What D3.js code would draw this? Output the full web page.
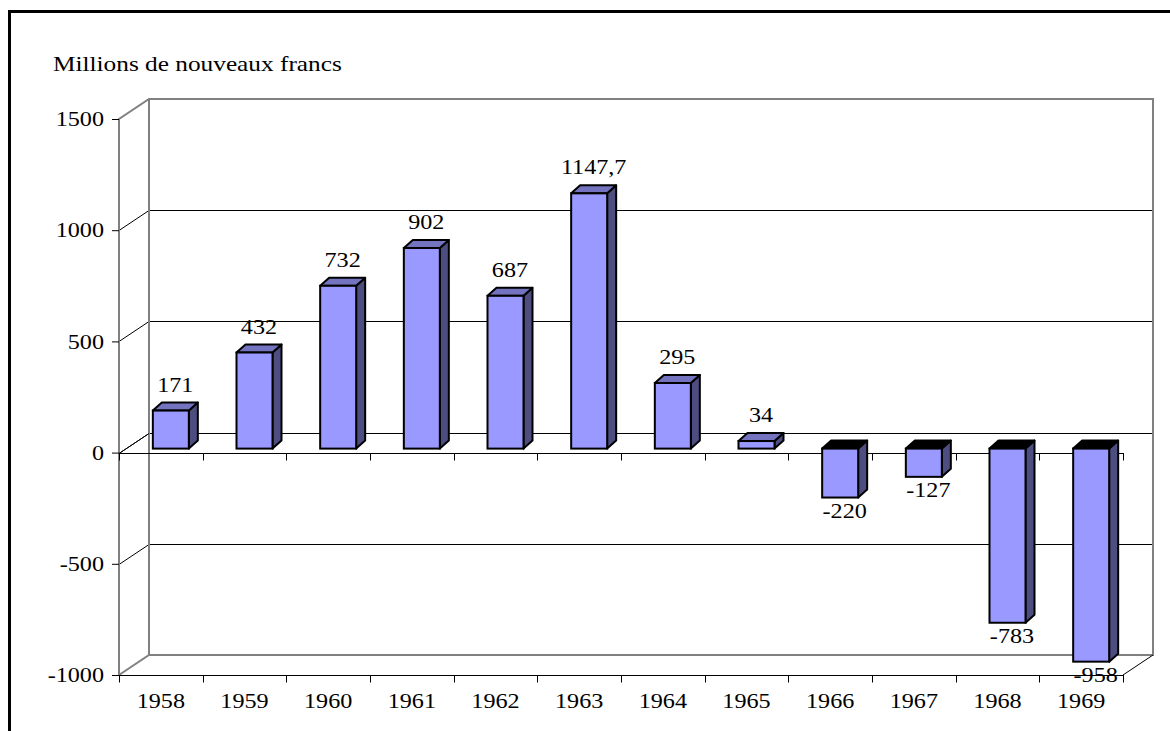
<!DOCTYPE html>
<html>
<head>
<meta charset="utf-8">
<script src="https://cdn.jsdelivr.net/npm/d3@7/dist/d3.min.js"></script>
<style>
  body { margin: 0; background: #fff; }
  svg text { font-family: "Liberation Serif", "Times New Roman", serif; fill: #000; }
</style>
</head>
<body>
<div id="chart"></div>
<script>
// data
var years = ["1958", "1959", "1960", "1961", "1962", "1963", "1964", "1965", "1966", "1967", "1968", "1969"];
var soldes = [171, 432, 732, 902, 687, 1147.7, 295, 34, -220, -127, -783, -958];
var yTicks = [1500, 1000, 500, 0, -500, -1000];
var unitLabel = "Millions de nouveaux francs";

var width = 1170, height = 731;
var svg = d3.select( "#chart" ).append( "svg" )
  .attr( "width", width )
  .attr( "height", height );

// front plane of the 3d box
var x = d3.scaleBand().domain( years ).range( [119, 1123] ).paddingInner( 0 ).paddingOuter( 0 );
var y = d3.scaleLinear().domain( [-1000, 1500] ).range( [675, 119] );
var wallDx = 30, wallDy = -20;   // depth of the walls
var barDx = 10, barDy = -4;      // bars sit a bit behind the front plane
var depDx = 9, depDy = -8;       // bar depth
var barW = 36;
var stretch = 1.15;              // the original text is a bit wider than Liberation Serif

var fr = d3.formatLocale( { decimal: ",", thousands: " ", grouping: [3], currency: ["", ""] } );
function fmt( v ) { return Number.isInteger( v ) ? String( v ) : fr.format( ".1f" )( v ); }

// outer frame
svg.append( "path" )
  .attr( "d", "M9.5," + height + "V11.5H" + width )
  .attr( "fill", "none" ).attr( "stroke", "#000" ).attr( "stroke-width", 3 );

// unit label
svg.append( "text" )
  .attr( "class", "wide" )
  .attr( "x", 53 ).attr( "y", 71 )
  .style( "font-size", "22px" )
  .text( unitLabel );

var x0 = x.range()[0], x1 = x.range()[1];
var yTop = y( 1500 ), yBot = y( -1000 );

// gridlines on the back wall + side wall
var inner = yTicks.filter( function ( t ) { return t !== 1500 && t !== -1000; } );
svg.selectAll( ".grid" )
  .data( inner )
  .enter().append( "path" )
  .attr( "class", "grid" )
  .attr( "fill", "none" ).attr( "stroke", "#000" ).attr( "stroke-width", 1 )
  .attr( "d", function ( t ) {
    var yy = Math.round( y( t ) ) + 0.5;
    return "M" + x0 + "," + yy + "L" + ( x0 + wallDx ) + "," + ( yy + wallDy ) + "H" + ( x1 + wallDx );
  } );

// walls outline (grey)
var gray = "#808080";
svg.append( "path" )
  .attr( "fill", "none" ).attr( "stroke", gray ).attr( "stroke-width", 2 )
  .attr( "d",
    "M" + x0 + "," + yBot + "V" + yTop + "L" + ( x0 + wallDx ) + "," + ( yTop + wallDy ) +
    "H" + ( x1 + wallDx ) + "V" + ( yBot + wallDy ) + "H" + ( x0 + wallDx ) + "L" + x0 + "," + yBot +
    "M" + ( x0 + wallDx ) + "," + ( yTop + wallDy ) + "V" + ( yBot + wallDy ) );

// right edge of the floor
svg.append( "line" )
  .attr( "x1", x1 ).attr( "y1", yBot ).attr( "x2", x1 + wallDx ).attr( "y2", yBot + wallDy )
  .attr( "stroke", "#000" ).attr( "stroke-width", 1 );

// value axis
var yAxis = d3.axisLeft( y ).tickValues( yTicks ).tickSize( 7 ).tickPadding( 8 )
  .tickFormat( function ( d ) { return String( d ); } );
svg.append( "g" )
  .attr( "transform", "translate(" + x0 + ",0)" )
  .call( yAxis )
  .call( function ( g ) {
    g.select( ".domain" ).remove();
    g.selectAll( "line" ).attr( "stroke", "#000" );
    g.selectAll( "text" ).attr( "class", "wide" )
      .style( "font-size", "21px" ).style( "font-family", "Liberation Serif, serif" );
  } );

// category axis at 0 (behind the bars) and at the floor
function catAxis( yy ) {
  var g = svg.append( "g" ).attr( "transform", "translate(0," + ( Math.round( y( yy ) ) + 0.5 ) + ")" );
  g.append( "line" ).attr( "x1", x0 ).attr( "x2", x1 + 1 ).attr( "stroke", "#000" );
  g.selectAll( ".tk" )
    .data( years.map( function ( d ) { return x( d ); } ).concat( [x1] ) )
    .enter().append( "line" )
    .attr( "class", "tk" )
    .attr( "x1", function ( d ) { return Math.round( d ) + 0.5; } )
    .attr( "x2", function ( d ) { return Math.round( d ) + 0.5; } )
    .attr( "y1", 0 ).attr( "y2", 7 )
    .attr( "stroke", "#000" );
  return g;
}
catAxis( 0 );
svg.append( "line" )
  .attr( "x1", x0 ).attr( "y1", Math.round( y( 0 ) ) + 0.5 )
  .attr( "x2", x0 + wallDx ).attr( "y2", Math.round( y( 0 ) ) + 0.5 + wallDy )
  .attr( "stroke", "#000" );
var floorAxis = catAxis( -1000 );
floorAxis.selectAll( ".lbl" )
  .data( years )
  .enter().append( "text" )
  .attr( "class", "lbl wide" )
  .attr( "x", function ( d ) { return x( d ) + x.bandwidth() / 2; } )
  .attr( "y", 32 )
  .attr( "text-anchor", "middle" )
  .style( "font-size", "21px" )
  .text( function ( d ) { return d; } );

// 3d bars
var rows = years.map( function ( d, i ) { return { year: d, value: soldes[i] }; } );
var bars = svg.selectAll( ".bar" )
  .data( rows )
  .enter().append( "g" )
  .attr( "class", "bar" );

function pts( arr ) { return arr.map( function ( p ) { return p[0] + "," + p[1]; } ).join( " " ); }

bars.each( function ( d ) {
  var g = d3.select( this );
  var left = x( d.year ) + ( x.bandwidth() - barW ) / 2 + barDx;
  var right = left + barW;
  var yv = y( d.value ) + barDy, y0 = y( 0 ) + barDy;
  var top = Math.min( yv, y0 ), bot = Math.max( yv, y0 );
  // side face
  g.append( "polygon" )
    .attr( "points", pts( [[right, top], [right + depDx, top + depDy], [right + depDx, bot + depDy], [right, bot]] ) )
    .attr( "fill", "#4d4d80" ).attr( "stroke", "#000" ).attr( "stroke-width", 2 ).attr( "stroke-linejoin", "round" );
  // top face
  g.append( "polygon" )
    .attr( "points", pts( [[left, top], [left + depDx, top + depDy], [right + depDx, top + depDy], [right, top]] ) )
    .attr( "fill", d.value < 0 ? "#000" : "#7373bf" ).attr( "stroke", "#000" ).attr( "stroke-width", 2 ).attr( "stroke-linejoin", "round" );
  // front face
  g.append( "rect" )
    .attr( "x", left ).attr( "y", top )
    .attr( "width", barW ).attr( "height", bot - top )
    .attr( "fill", "#9999ff" ).attr( "stroke", "#000" ).attr( "stroke-width", 2 );
} );

// value labels
svg.selectAll( ".val" )
  .data( rows )
  .enter().append( "text" )
  .attr( "class", "val wide" )
  .attr( "x", function ( d ) { return x( d.year ) + x.bandwidth() / 2 + barDx + depDx / 2; } )
  .attr( "y", function ( d ) {
    return d.value >= 0 ? y( d.value ) + barDy + depDy - 11 : y( d.value ) + barDy + 20;
  } )
  .attr( "text-anchor", "middle" )
  .style( "font-size", "21px" )
  .text( function ( d ) { return fmt( d.value ); } );

// widen the glyphs a little, like the original rendering
svg.selectAll( "text.wide" ).each( function () {
  var w = this.getComputedTextLength();
  d3.select( this ).attr( "textLength", w * stretch ).attr( "lengthAdjust", "spacingAndGlyphs" );
} );
</script>
</body>
</html>
